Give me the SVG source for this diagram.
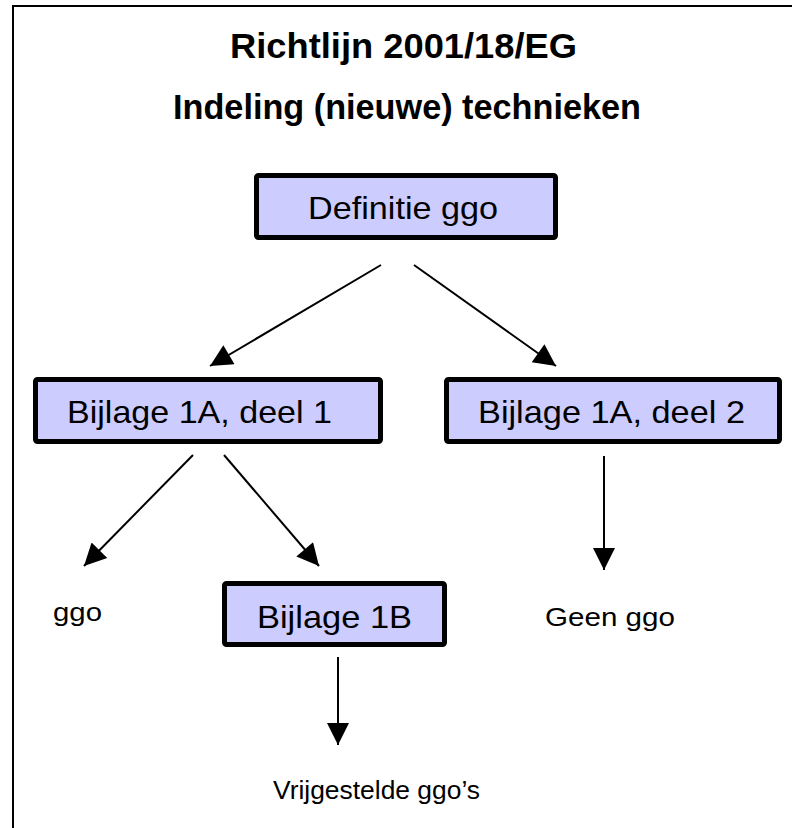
<svg xmlns="http://www.w3.org/2000/svg" width="792" height="828" viewBox="0 0 792 828">
<defs>
<style>
.frame{fill:#fff;stroke:#000;stroke-width:2}
.box{fill:#CCCCFF;stroke:#000;stroke-width:5}
.t{font-family:"Liberation Sans",Arial,sans-serif;fill:#000}
.title{font-weight:bold;font-size:35px}
.bt{font-size:32px}
.lb{font-size:26px}
.con{stroke:#000;stroke-width:2;fill:none;marker-end:url(#ah)}
</style>
<marker id="ah" viewBox="0 0 20 20" refX="20" refY="10" markerWidth="24" markerHeight="22" markerUnits="userSpaceOnUse" orient="auto">
<path d="M0,0 L20,10 L0,20 z" fill="#000"/>
</marker>
</defs>
<rect x="0" y="0" width="792" height="828" fill="#fff"/>
<rect class="frame" x="13" y="6" width="820" height="860"/>
<g id="title">
<text class="t title" x="230" y="58" textLength="347" lengthAdjust="spacingAndGlyphs">Richtlijn 2001/18/EG</text>
<text class="t title" x="173" y="119" textLength="468" lengthAdjust="spacingAndGlyphs">Indeling (nieuwe) technieken</text>
</g>
<g id="connectors">
<line class="con" x1="381" y1="265" x2="210" y2="366"/>
<line class="con" x1="414" y1="265" x2="556" y2="366"/>
<line class="con" x1="193" y1="455" x2="84" y2="566"/>
<line class="con" x1="224" y1="455" x2="319" y2="566"/>
<line class="con" x1="604" y1="456" x2="604" y2="570"/>
<line class="con" x1="338" y1="657" x2="338" y2="745"/>
</g>
<g id="definitie">
<rect class="box" x="256.5" y="175.5" width="299" height="62" rx="2"/>
<text class="t bt" x="308" y="219" textLength="190" lengthAdjust="spacingAndGlyphs">Definitie ggo</text>
</g>
<g id="bijlage1a1">
<rect class="box" x="35.5" y="379.5" width="345" height="62" rx="2"/>
<text class="t bt" x="67" y="423" textLength="265" lengthAdjust="spacingAndGlyphs">Bijlage 1A, deel 1</text>
</g>
<g id="bijlage1a2">
<rect class="box" x="446.5" y="379.5" width="333" height="62" rx="2"/>
<text class="t bt" x="478" y="423" textLength="267" lengthAdjust="spacingAndGlyphs">Bijlage 1A, deel 2</text>
</g>
<g id="bijlage1b">
<rect class="box" x="224.5" y="583.5" width="220" height="61" rx="2"/>
<text class="t bt" x="257" y="628" textLength="155" lengthAdjust="spacingAndGlyphs">Bijlage 1B</text>
</g>
<g id="ggo">
<text class="t lb" x="53" y="621" textLength="49" lengthAdjust="spacingAndGlyphs">ggo</text>
</g>
<g id="geenggo">
<text class="t lb" x="545" y="626" textLength="130" lengthAdjust="spacingAndGlyphs">Geen ggo</text>
</g>
<g id="vrijgesteld">
<text class="t lb" x="273" y="799" textLength="207" lengthAdjust="spacingAndGlyphs">Vrijgestelde ggo’s</text>
</g>
</svg>
